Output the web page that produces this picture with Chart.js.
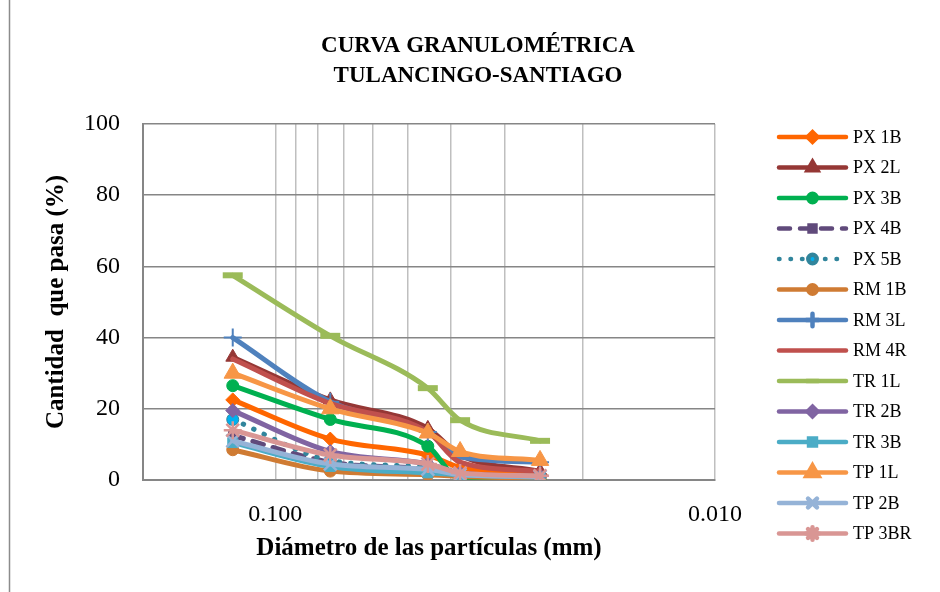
<!DOCTYPE html>
<html>
<head>
<meta charset="utf-8">
<script src="https://cdn.jsdelivr.net/npm/chart.js@4.4.1/dist/chart.umd.min.js"></script>
<style>
  html, body { margin: 0; padding: 0; background: #ffffff; }
  #wrap { width: 940px; height: 592px; position: relative; }
</style>
</head>
<body>
<div id="wrap"><canvas id="chart" width="940" height="592"></canvas></div>
<script>
// Particle diameters (mm) of the fine fraction
const diameters = [0.125, 0.075, 0.045, 0.038, 0.025];

// Percent passing for each sample
const px1B  = [22.5, 11.5, 7.0, 3.5, 1.5];
const px2L  = [34.5, 22.5, 14.5, 7.0, 2.5];
const px3B  = [26.5, 17.0, 9.5, 0.3, 0.0];
const px4B  = [12.5, 5.0, 3.0, 1.5, 1.0];
const px5B  = [17.0, 5.5, 3.5, 1.5, 1.0];
const rm1B  = [8.5, 2.5, 1.5, 1.0, 0.5];
const rm3L  = [40.0, 22.0, 13.5, 6.5, 5.0];
const rm4R  = [34.0, 21.5, 13.5, 5.0, 2.5];
const tr1L  = [57.5, 40.5, 25.8, 16.8, 11.0];
const tr2B  = [19.5, 8.0, 4.5, 2.0, 1.0];
const tr3B  = [10.5, 3.8, 2.0, 1.5, 0.8];
const tp1L  = [30.0, 20.0, 13.2, 8.0, 5.5];
const tp2B  = [11.0, 4.5, 3.0, 1.5, 1.0];
const tp3BR = [14.0, 7.0, 4.5, 2.0, 1.2];

const seriesNames = ['PX 1B', 'PX 2L', 'PX 3B', 'PX 4B', 'PX 5B', 'RM 1B', 'RM 3L',
                     'RM 4R', 'TR 1L', 'TR 2B', 'TR 3B', 'TP 1L', 'TP 2B', 'TP 3BR'];
const seriesValues = [px1B, px2L, px3B, px4B, px5B, rm1B, rm3L,
                      rm4R, tr1L, tr2B, tr3B, tp1L, tp2B, tp3BR];

// Axis ticks
const xGridValues = [0.2, 0.1, 0.09, 0.08, 0.07, 0.06, 0.05, 0.04, 0.03, 0.02, 0.01];
const xTickLabels = { '0.1': '0.100', '0.01': '0.010' };
const yTickValues = [0, 20, 40, 60, 80, 100];

const SERIF = "'Liberation Serif', 'Times New Roman', serif";

// Line and marker look of each series
const looks = [
  { color: '#FF6600', marker: 'rectRot',  r: 7 },
  { color: '#953735', marker: 'triangle', r: 8 },
  { color: '#00B050', marker: 'circle',   r: 6 },
  { color: '#604A7B', marker: 'rect',     r: 6, dash: [11, 10] },
  { color: '#31859C', marker: 'circle',   r: 6, dash: [0.5, 11], fill: '#00B0F0' },
  { color: '#CF7B33', marker: 'circle',   r: 6 },
  { color: '#4F81BD', marker: 'cross',    r: 9, bw: 2 },
  { color: '#C0504D', marker: false,      r: 0 },
  { color: '#9BBB59', marker: 'line',     r: 10, bw: 6 },
  { color: '#8064A2', marker: 'rectRot',  r: 7 },
  { color: '#4BACC6', marker: 'rect',     r: 7 },
  { color: '#F79646', marker: 'triangle', r: 10 },
  { color: '#95B3D7', marker: 'crossRot', r: 9, bw: 2.5 },
  { color: '#D99694', marker: 'star',     r: 9, bw: 2.5 }
];

const datasets = seriesNames.map((name, i) => {
  const lk = looks[i];
  return {
    label: name,
    data: diameters.map((d, k) => ({ x: d, y: seriesValues[i][k] })),
    borderColor: lk.color,
    backgroundColor: lk.color,
    borderWidth: 5,
    borderDash: lk.dash || [],
    borderCapStyle: 'round',
    borderJoinStyle: 'round',
    pointStyle: lk.marker,
    pointRadius: lk.marker ? lk.r : 0,
    pointHoverRadius: lk.marker ? lk.r : 0,
    pointBackgroundColor: lk.fill || lk.color,
    pointBorderColor: lk.color,
    pointBorderWidth: lk.bw || 1,
    showLine: true,
    cubicInterpolationMode: 'monotone',
    fill: false,
    order: seriesNames.length - i
  };
});

// White page with the frame edge on the left
const pagePlugin = {
  id: 'page',
  beforeDraw(chart) {
    const ctx = chart.ctx;
    ctx.save();
    ctx.fillStyle = '#ffffff';
    ctx.fillRect(0, 0, chart.width, chart.height);
    ctx.strokeStyle = '#8C8C8C';
    ctx.lineWidth = 1.5;
    ctx.beginPath();
    ctx.moveTo(9.5, 0);
    ctx.lineTo(9.5, chart.height);
    ctx.stroke();
    ctx.restore();
  }
};

// Legend on the right: line sample with its marker, then the name
const sideLegend = {
  id: 'sideLegend',
  afterDraw(chart) {
    const ctx = chart.ctx;
    const top = 137, step = 30.5, x0 = 779, x1 = 846, xm = 812.5, xt = 853;
    chart.data.datasets.forEach((ds, i) => {
      const y = top + i * step;
      ctx.save();
      ctx.strokeStyle = ds.borderColor;
      ctx.lineWidth = 4.5;
      ctx.lineCap = 'round';
      ctx.setLineDash(ds.borderDash);
      ctx.beginPath();
      ctx.moveTo(x0, y);
      ctx.lineTo(x1, y);
      ctx.stroke();
      ctx.setLineDash([]);
      if (ds.pointStyle) {
        ctx.fillStyle = ds.pointBackgroundColor;
        ctx.strokeStyle = ds.pointBorderColor;
        Chart.helpers.drawPoint(ctx, {
          pointStyle: ds.pointStyle,
          radius: ds.pointStyle === 'line' ? 6 : Math.max(4, ds.pointRadius * 0.7),
          borderWidth: ds.pointBorderWidth,
          rotation: 0
        }, xm, y);
      }
      ctx.fillStyle = '#000000';
      ctx.font = '18px ' + SERIF;
      ctx.textBaseline = 'middle';
      ctx.textAlign = 'left';
      ctx.fillText(ds.label, xt, y + 1);
      ctx.restore();
    });
  }
};

new Chart(document.getElementById('chart'), {
  type: 'scatter',
  data: { datasets },
  plugins: [pagePlugin, sideLegend],
  options: {
    responsive: false,
    animation: false,
    devicePixelRatio: 1,
    layout: { padding: { left: 16, right: 0, top: 0, bottom: 0 } },
    plugins: {
      legend: { display: false },
      tooltip: { enabled: false },
      title: {
        display: true,
        text: ['CURVA GRANULOMÉTRICA', 'TULANCINGO-SANTIAGO'],
        color: '#000000',
        font: { family: SERIF, size: 23, weight: 'bold', lineHeight: '30px' },
        padding: { top: 31, bottom: 33 }
      }
    },
    scales: {
      x: {
        type: 'logarithmic',
        reverse: true,
        min: 0.01,
        max: 0.2,
        afterBuildTicks(scale) {
          scale.ticks = xGridValues.map(v => ({ value: v }));
        },
        afterFit(scale) { scale.height = 112; },
        ticks: {
          autoSkip: false,
          maxRotation: 0,
          padding: 20,
          color: '#000000',
          font: { family: SERIF, size: 24 },
          callback(value) { return xTickLabels[String(value)] || ''; }
        },
        grid: { color: '#BFBFBF', lineWidth: 1.5, drawTicks: false },
        border: { color: '#868686', width: 2 },
        title: {
          display: true,
          text: 'Diámetro de las partículas (mm)',
          color: '#000000',
          font: { family: SERIF, size: 25, weight: 'bold', lineHeight: '30px' },
          padding: { top: 0, bottom: 28 }
        }
      },
      y: {
        min: 0,
        max: 100,
        afterBuildTicks(scale) {
          scale.ticks = yTickValues.map(v => ({ value: v }));
        },
        afterFit(scale) { scale.width = 127; },
        ticks: {
          padding: 23,
          color: '#000000',
          font: { family: SERIF, size: 24 }
        },
        grid: { color: '#868686', lineWidth: 1.5, drawTicks: false },
        border: { color: '#868686', width: 2 },
        title: {
          display: true,
          text: 'Cantidad  que pasa (%)',
          color: '#000000',
          font: { family: SERIF, size: 25, weight: 'bold', lineHeight: '30px' },
          padding: { top: 26, bottom: 0 }
        }
      },
      // empty strip on the right that holds the legend
      legendSpace: {
        type: 'linear',
        position: 'right',
        min: 0,
        max: 1,
        afterFit(scale) { scale.width = 225; },
        ticks: { display: false },
        grid: { display: false, drawOnChartArea: false },
        border: { display: false }
      }
    }
  }
});
</script>
</body>
</html>
